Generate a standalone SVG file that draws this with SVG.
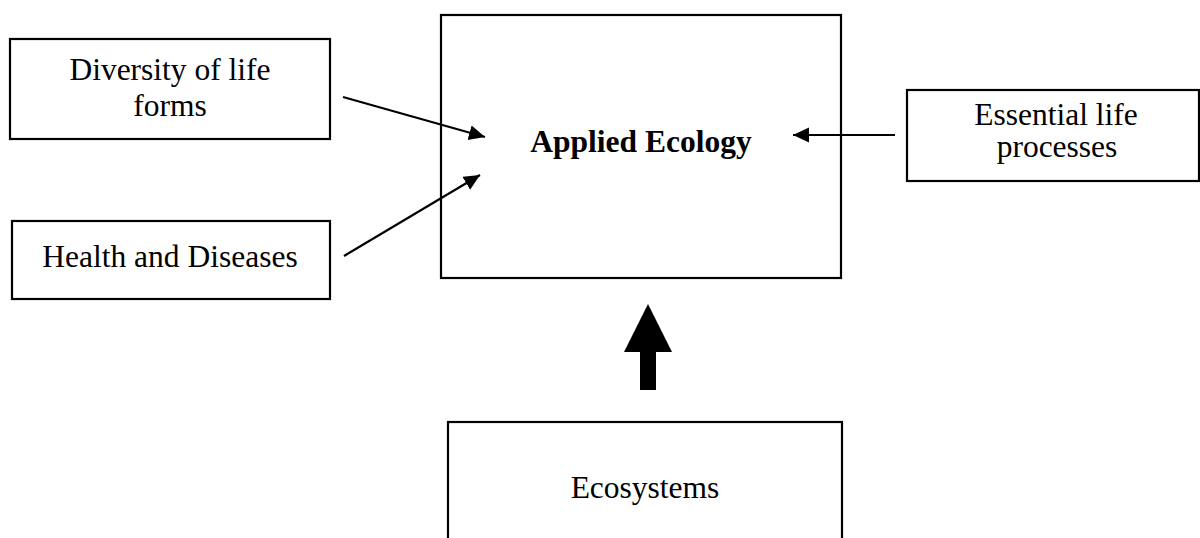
<svg xmlns="http://www.w3.org/2000/svg" width="1200" height="538" viewBox="0 0 1200 538">
  <style>
    .box { fill: #ffffff; stroke: #000000; stroke-width: 2.2; }
    .lbl { font-family: "Liberation Serif", "Times New Roman", serif; font-size: 31.5px; fill: #000000; text-anchor: middle; }
    .bold { font-weight: bold; }
    .conn { stroke: #000000; stroke-width: 2.2; fill: none; marker-end: url(#ah); }
  </style>
  <defs>
    <marker id="ah" markerUnits="userSpaceOnUse" markerWidth="17" markerHeight="16" refX="16" refY="7.5" orient="auto">
      <path d="M0,0 L16,7.5 L0,15 Z" fill="#000000"/>
    </marker>
  </defs>
  <rect x="0" y="0" width="1200" height="538" fill="#ffffff"/>

  <g id="node-applied-ecology">
    <rect class="box" x="441" y="15" width="400" height="263"/>
    <text class="lbl bold" x="641" y="152">Applied Ecology</text>
  </g>

  <g id="node-diversity">
    <rect class="box" x="10" y="39" width="320" height="100"/>
    <text class="lbl" x="170" y="80">Diversity of life</text>
    <text class="lbl" x="170" y="116">forms</text>
  </g>

  <g id="node-health">
    <rect class="box" x="12" y="221" width="318" height="78"/>
    <text class="lbl" x="170" y="267">Health and Diseases</text>
  </g>

  <g id="node-essential">
    <rect class="box" x="907" y="90" width="292" height="91"/>
    <text class="lbl" x="1056" y="125">Essential life</text>
    <text class="lbl" x="1057" y="157">processes</text>
  </g>

  <g id="node-ecosystems">
    <rect class="box" x="448" y="422" width="394" height="130"/>
    <text class="lbl" x="645" y="498">Ecosystems</text>
  </g>

  <g id="connectors">
    <line class="conn" x1="343" y1="97" x2="485" y2="137"/>
    <line class="conn" x1="344" y1="256" x2="480" y2="175"/>
    <line class="conn" x1="895" y1="135" x2="793" y2="135"/>
    <polygon points="648,304 672,352 656,352 656,390 640,390 640,352 624,352" fill="#000000"/>
  </g>
</svg>
